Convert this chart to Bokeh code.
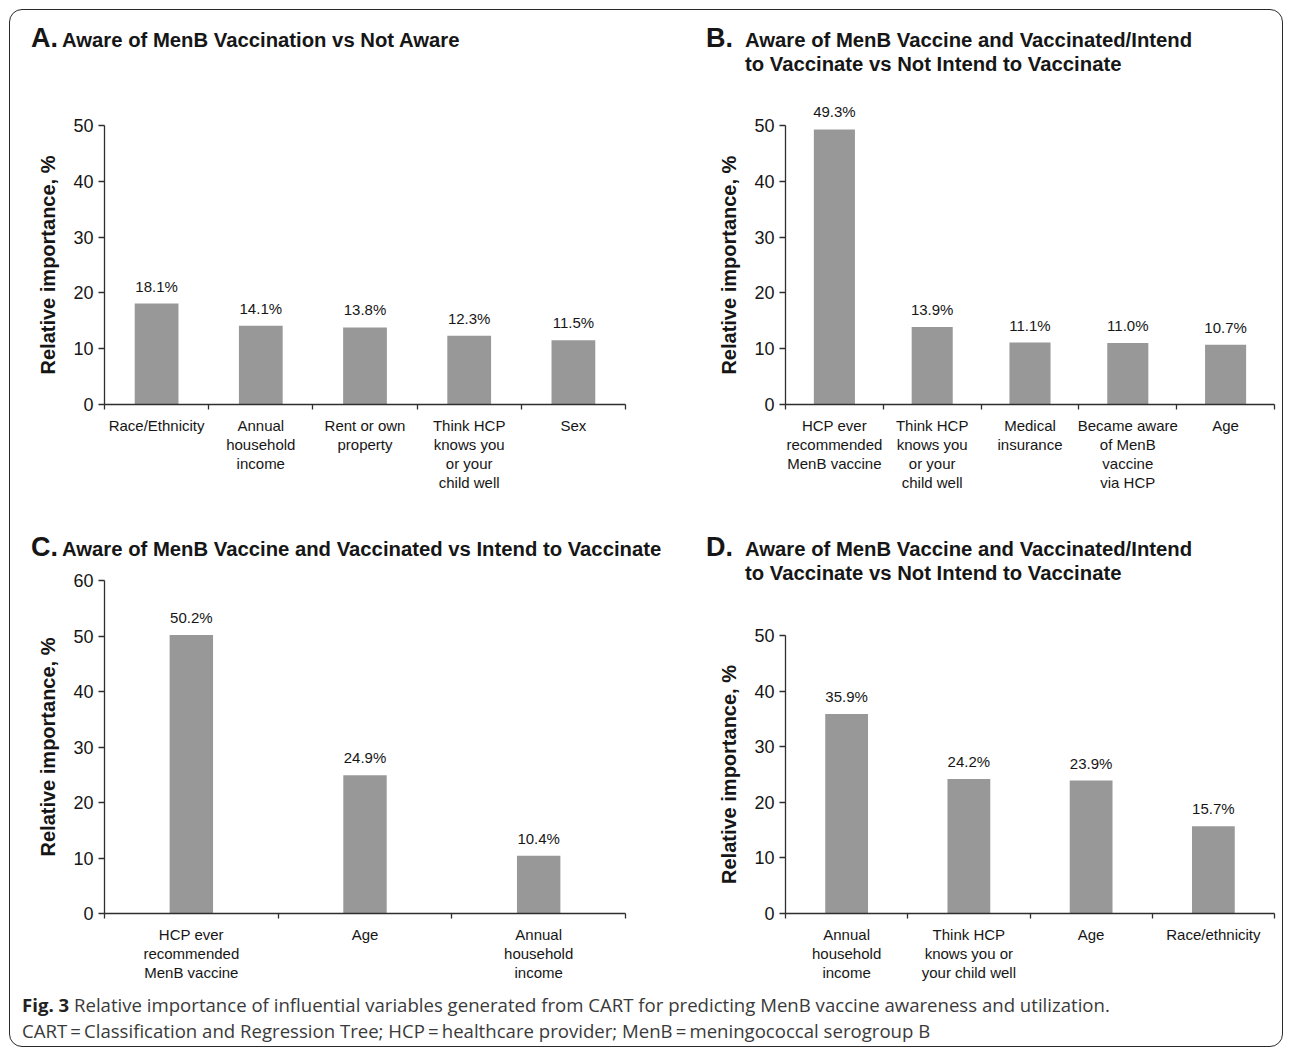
from bokeh.plotting import figure
from bokeh.models import (Range1d, FixedTicker, ColumnDataSource, LabelSet, Div)
from bokeh.layouts import column, row
from bokeh.core.properties import value
from bokeh.embed import file_html
from bokeh.resources import INLINE

# ---------------- data ----------------
a_cats = ["Race/Ethnicity", "Annual\nhousehold\nincome", "Rent or own\nproperty",
          "Think HCP\nknows you\nor your\nchild well", "Sex"]
a_vals = [18.1, 14.1, 13.8, 12.3, 11.5]

b_cats = ["HCP ever\nrecommended\nMenB vaccine", "Think HCP\nknows you\nor your\nchild well",
          "Medical\ninsurance", "Became aware\nof MenB\nvaccine\nvia HCP", "Age"]
b_vals = [49.3, 13.9, 11.1, 11.0, 10.7]

c_cats = ["HCP ever\nrecommended\nMenB vaccine", "Age", "Annual\nhousehold\nincome"]
c_vals = [50.2, 24.9, 10.4]

d_cats = ["Annual\nhousehold\nincome", "Think HCP\nknows you or\nyour child well", "Age",
          "Race/ethnicity"]
d_vals = [35.9, 24.2, 23.9, 15.7]

a_ticks = [0, 10, 20, 30, 40, 50]
b_ticks = [0, 10, 20, 30, 40, 50]
c_ticks = [0, 10, 20, 30, 40, 50, 60]
d_ticks = [0, 10, 20, 30, 40, 50]

a_title = ("A", ["Aware of MenB Vaccination vs Not Aware"])
b_title = ("B", ["Aware of MenB Vaccine and Vaccinated/Intend",
                 "to Vaccinate vs Not Intend to Vaccinate"])
c_title = ("C", ["Aware of MenB Vaccine and Vaccinated vs Intend to Vaccinate"])
d_title = ("D", ["Aware of MenB Vaccine and Vaccinated/Intend",
                 "to Vaccinate vs Not Intend to Vaccinate"])

caption_bold = "Fig. 3"
caption_line1 = ("Relative importance of influential variables generated from CART for "
                 "predicting MenB vaccine awareness and utilization.")
caption_line2 = ("CART\u2009=\u2009Classification and Regression Tree; HCP\u2009=\u2009healthcare "
                 "provider; MenB\u2009=\u2009meningococcal serogroup B")

ylabel = "Relative importance, %"

# ---------------- styles ----------------
FONT = "Liberation Sans"
BAR = "#989898"
AXIS = "#2e2e2e"
TXT = "#161616"


def panel(cats, vals, yticks, width, height, left, right, top, bottom, bar_w, headroom=0):
    n = len(cats)
    xs = [i + 0.5 for i in range(n)]
    labels = [f"{v:.1f}%" for v in vals]
    src = ColumnDataSource(dict(x=xs, top=vals, label=labels))
    frame_h = height - top - bottom
    y0, y1 = yticks[0], yticks[-1]
    # extra room above the last tick (in pixels) so value labels are not clipped
    y_end = y1 + headroom * (y1 - y0) / (frame_h - headroom)
    p = figure(width=width, height=height, output_backend="svg", toolbar_location=None,
               x_range=Range1d(0, n), y_range=Range1d(y0, y_end),
               min_border_left=left, min_border_right=right,
               min_border_top=top, min_border_bottom=bottom)
    p.outline_line_color = None
    p.grid.visible = False
    p.background_fill_color = "white"
    p.border_fill_color = "white"
    p.vbar(x="x", top="top", bottom=0, width=bar_w, source=src,
           fill_color=BAR, line_color=None)
    ls = LabelSet(x="x", y="top", text="label", source=src, text_align="center",
                  text_baseline="bottom", y_offset=9, text_font=value(FONT),
                  text_font_size="15px", text_color=TXT)
    p.add_layout(ls)

    xa = p.xaxis[0]
    xa.ticker = FixedTicker(ticks=xs, minor_ticks=list(range(n + 1)))
    xa.major_label_overrides = {x: c for x, c in zip(xs, cats)}
    xa.major_tick_out = 0
    xa.major_tick_in = 0
    xa.minor_tick_out = 5
    xa.minor_tick_in = 0
    xa.minor_tick_line_color = AXIS
    xa.minor_tick_line_width = 1.3
    xa.axis_line_color = AXIS
    xa.axis_line_width = 1.3
    xa.major_label_text_font = FONT
    xa.major_label_text_font_size = "15px"
    xa.major_label_text_color = TXT
    xa.major_label_text_line_height = 1.13
    xa.major_label_standoff = 7

    ya = p.yaxis[0]
    ya.ticker = FixedTicker(ticks=yticks, minor_ticks=[])
    ya.bounds = (y0, y1)
    ya.major_tick_out = 6
    ya.major_tick_in = 0
    ya.minor_tick_out = 0
    ya.minor_tick_in = 0
    ya.major_tick_line_color = AXIS
    ya.major_tick_line_width = 1.3
    ya.axis_line_color = AXIS
    ya.axis_line_width = 1.3
    ya.major_label_text_font = FONT
    ya.major_label_text_font_size = "18px"
    ya.major_label_text_color = TXT
    ya.major_label_standoff = 5
    # pad with no-break spaces so the visible label stays centred on the 0..max span
    pad = int(round(headroom / 5.56))
    ya.axis_label = ylabel + "\u00a0" * pad
    ya.axis_label_text_font = FONT
    ya.axis_label_text_font_size = "20px"
    ya.axis_label_text_font_style = "bold"
    ya.axis_label_text_color = TXT
    ya.axis_label_standoff = 11
    return p


def header(spec, width, height, pad_left, pad_top, gap):
    letter, lines = spec
    body = "<br>".join(lines)
    html = (f'<div style="display:flex;align-items:baseline;font-family:\'{FONT}\',Arial,sans-serif;'
            f'font-weight:bold;color:{TXT};padding-left:{pad_left}px;padding-top:{pad_top}px;'
            f'line-height:24px;white-space:nowrap;">'
            f'<span style="font-size:27px;">{letter}.</span>'
            f'<span style="font-size:20.3px;margin-left:{gap}px;">{body}</span></div>')
    return Div(text=html, width=width, height=height, margin=0)


pA = panel(a_cats, a_vals, a_ticks, 640, 420, 94, 25, 35, 106, 0.42)
pB = panel(b_cats, b_vals, b_ticks, 632, 420, 135, 8, 13, 106, 0.42, headroom=22)
pC = panel(c_cats, c_vals, c_ticks, 640, 420, 94, 25, 15, 72, 0.25)
pD = panel(d_cats, d_vals, d_ticks, 632, 385, 135, 8, 35, 72, 0.35)

hA = header(a_title, 640, 80, 21, 16, 4)
hB = header(b_title, 632, 80, 56, 16, 12)
hC = header(c_title, 640, 55, 21, 25, 4)
hD = header(d_title, 632, 90, 56, 25, 12)

cap_html = ('<div style="font-family:\'Open Sans\',sans-serif;font-size:18.6px;line-height:26px;'
            'color:#3a3a3a;padding-left:12px;padding-top:7px;white-space:nowrap;">'
            f'<b style="color:#222;">{caption_bold}</b> {caption_line1}<br>{caption_line2}</div>')
cap = Div(text=cap_html, width=1272, height=61, margin=0)

root = column(
    row(column(hA, pA, spacing=0), column(hB, pB, spacing=0), spacing=0),
    row(column(hC, pC, spacing=0), column(hD, pD, spacing=0), spacing=0),
    cap,
    spacing=0,
    margin=(10, 10, 4, 10),
    styles={"outline": "1.6px solid #2a2a2a", "outline-offset": "0px",
            "border-radius": "12px", "background": "white"},
)

open("out.html", "w").write(file_html(root, INLINE))
